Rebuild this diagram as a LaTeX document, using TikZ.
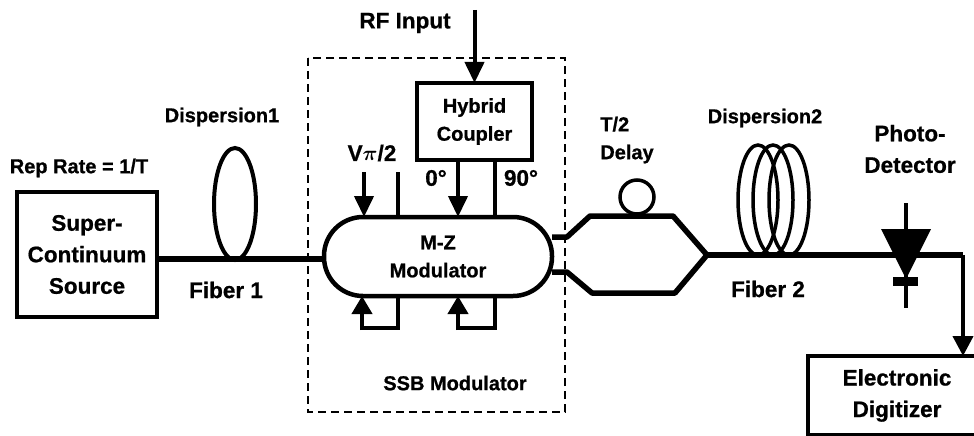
\documentclass[tikz,border=0pt]{standalone}
\usepackage{fontspec}
\setmainfont{Liberation Sans}[BoldFeatures={FakeBold=0.8}]
\usetikzlibrary{arrows.meta}
\tikzset{
	lab/.style={inner sep=0pt,align=center,font=\bfseries\fontsize{20}{28}\selectfont},
	biglab/.style={inner sep=0pt,align=center,font=\bfseries\fontsize{22.5}{31.5}\selectfont},
	blockbox/.style={draw,line width=4.5pt,outer sep=0pt,inner sep=0pt,rectangle},
	fiberline/.style={line width=5.5pt},
	wireline/.style={line width=4pt},
	sigarrow/.style={line width=4pt,-{Triangle[width=19pt,length=21pt]}},
	looparrow/.style={line width=4pt,-{Triangle[width=20pt,length=18pt]}}
}
\begin{document}
\begin{tikzpicture}[x=1pt,y=-1pt]
	\useasboundingbox (0,0) rectangle (974,436);
	\clip (0,0) rectangle (974,436);
	
	\draw[line width=2.5pt,dash pattern=on 8pt off 5pt] (308,58) rectangle (565,412);
	
	\node[blockbox,biglab,minimum width=140pt,minimum height=125pt] (source) at (87,254.5) {Super-\\Continuum\\Source};
	\node[blockbox,lab,minimum width=115pt,minimum height=77pt] (hybrid) at (474.5,121.5) {Hybrid\\Coupler};
	\node[blockbox,lab,minimum width=228pt,minimum height=79pt,rounded corners=39pt] (mzm) at (438,256.5) {M-Z\\Modulator};
	\node[blockbox,biglab,minimum width=178pt,minimum height=79pt] (digitizer) at (897,395.5) {Electronic\\Digitizer};
	
	\node[biglab] (rflabel) at (405,23) {RF Input};
	\node[lab] (replabel) at (79,168) {Rep Rate = 1/T};
	\node[lab] (displabela) at (222,117) {Dispersion1};
	\node[lab] (displabelb) at (765,118) {Dispersion2};
	\node[biglab] (fiberlabela) at (226,290) {Fiber 1};
	\node[biglab] (fiberlabelb) at (768,289) {Fiber 2};
	\node[biglab] (vpilabel) at (372,153) {V{\boldmath$\pi$}/2};
	\node[biglab] (zerolabel) at (436,178) {0°};
	\node[biglab] (ninetylabel) at (521,178) {90°};
	\node[lab] (ssblabel) at (455,383) {SSB Modulator};
	\node[lab,align=left] (delaylabel) at (627,140) {T/2\\Delay};
	\node[biglab] (pdlabel) at (910,149) {Photo-\\Detector};
	
	\coordinate (rf) at (474.5,10);
	\coordinate (vpi) at (364,172);
	\coordinate (vtop) at (398,172);
	\coordinate (zero) at (458,160);
	\coordinate (ninety) at (495,160);
	\coordinate (fiberin) at (0,259);
	\coordinate (upper) at (552,237);
	\coordinate (lower) at (552,272);
	\coordinate (combine) at (707,255);
	\coordinate (corner) at (963,255);
	
	\draw[sigarrow] (rf) -- (hybrid.north);
	\draw[sigarrow] (vpi) -- (vpi |- mzm.north);
	\draw[wireline] (vtop) -- (vtop |- mzm.north);
	\draw[sigarrow] (zero) -- (zero |- mzm.north);
	\draw[wireline] (ninety) -- (ninety |- mzm.north);
	\foreach \xa/\xb in {398/362,495/458}
	{
		\draw[wireline] (\xa,296) -- (\xa,328) -- (\xb,328);
		\draw[looparrow] (\xb,330) -- (\xb,296);
	}
	
	\draw[fiberline] (source.east |- fiberin) -- (mzm.west |- fiberin);
	\draw[line width=4pt] (235,204) ellipse (21 and 56);
	
	\draw[fiberline,line join=round] (upper) -- (567,237) -- (590,216) -- (673,216) -- (combine);
	\draw[fiberline,line join=round] (lower) -- (567,272) -- (592,293) -- (675,293) -- (combine);
	\draw[line width=3.5pt] (637,197) circle (17);
	
	\foreach \cx in {758,773,789}
	{
		\draw[line width=3.5pt] (\cx,200) ellipse (20 and 55);
	}
	\draw[fiberline] (combine) -- (corner);
	\draw[line width=4pt,-{Triangle[width=20pt,length=20pt]}] (corner) -- (corner |- digitizer.north);
	
	\draw[line width=4pt] (906,203) -- (906,308);
	\fill (881,229) -- (931,229) -- (906,279) -- cycle;
	\fill (893,277) rectangle (918,286);
\end{tikzpicture}
\end{document}
